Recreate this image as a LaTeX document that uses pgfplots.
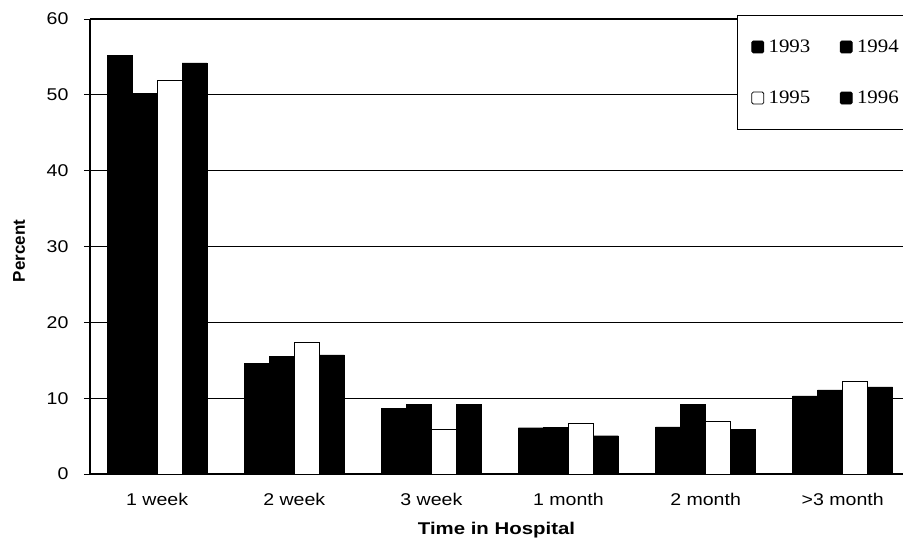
\documentclass[border=0pt]{standalone}
\usepackage{fontspec}
\setmainfont{Liberation Sans}
\newfontfamily\legendfont{Liberation Serif}
\usepackage{pgfplots}
\pgfplotsset{compat=1.18}
\usetikzlibrary{calc}

\pgfplotsset{
  sqlegend/.style={legend image code/.code={
      \draw[##1, line width=0.8pt, rounded corners=1.5pt] (0pt,-6pt) rectangle (12pt,6pt);}},
}

\begin{document}
\begin{tikzpicture}
\begin{axis}[
  scale only axis, width=813pt, height=455pt,
  xmin=-0.49, xmax=5.44, ymin=0, ymax=60,
  ybar=0pt, bar width=25pt,
  axis lines*=left,
  axis line style={line width=1.8pt},
  ytick={0,10,...,60},
  ymajorgrids, grid style={black, line width=1.2pt},
  xtick={0,...,5},
  xticklabels={1 week, 2 week, 3 week, 1 month, 2 month, >3 month},
  xtick style={draw=none},
  tick align=outside, major tick length=6pt,
  ytick style={black, line width=1pt},
  /pgf/number format/assume math mode=true,
  tick label style={font=\fontsize{17}{20}\selectfont, xscale=1.15},
  xticklabel style={anchor=base, yshift=-25pt},
  yticklabel style={anchor=east, xshift=-10pt},
  xlabel={Time in Hospital},
  xlabel style={at={(axis description cs:0.5,-0.134)}, anchor=base,
    font=\bfseries\fontsize{17}{20}\selectfont, xscale=1.2},
  ylabel={Percent},
  ylabel style={at={(axis description cs:-0.0873,0.49)}, anchor=center,
    font=\bfseries\fontsize{17}{20}\selectfont},
  legend columns=2,
  legend style={at={(0.7958,1.0088)}, anchor=north west,
    draw=black, line width=0.8pt, fill=white,
    font=\legendfont\fontsize{19}{21}\selectfont,
    inner xsep=14pt, inner ysep=23pt,
    nodes={inner xsep=4pt, inner ysep=1.5pt, xscale=1.1},
    /tikz/row sep=34pt,
    /tikz/every even column/.append style={column sep=25pt}},
]
\addplot[fill=black, draw=black, sqlegend] coordinates
  {(0,55.2) (1,14.6) (2,8.7) (3,6.1) (4,6.2) (5,10.3)};
\addplot[fill=black, draw=black, sqlegend] coordinates
  {(0,50.2) (1,15.5) (2,9.2) (3,6.15) (4,9.2) (5,11.1)};
\addplot[fill=white, draw=black, line width=1pt, sqlegend] coordinates
  {(0,51.9) (1,17.4) (2,5.9) (3,6.6) (4,6.9) (5,12.2)};
\addplot[fill=black, draw=black, sqlegend] coordinates
  {(0,54.2) (1,15.7) (2,9.2) (3,5.05) (4,5.85) (5,11.5)};
\legend{1993,1994\hspace*{20pt},1995,1996\hspace*{20pt}}
\end{axis}
\pgfresetboundingbox
\path[use as bounding box] ($(current axis.south west)+(-90pt,-65pt)$)
  rectangle ($(current axis.north east)+(0pt,19pt)$);
\end{tikzpicture}
\end{document}
